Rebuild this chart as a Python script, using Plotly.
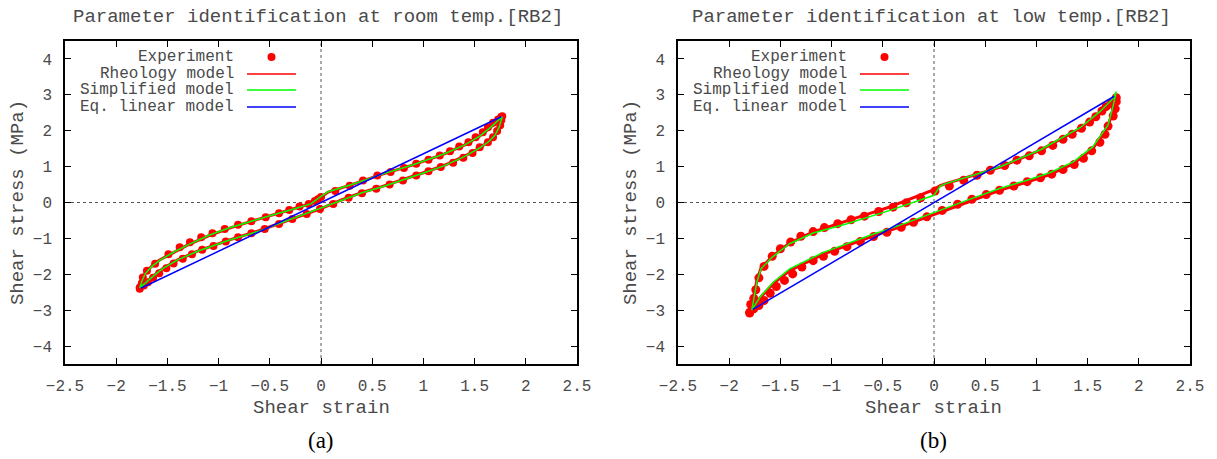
import plotly.graph_objects as go

# ---------------- Data: room temperature [RB2] ----------------
room_exp_strain = [-1.77, -1.75, -1.74, -1.70, -1.62, -1.49, -1.38, -1.28, -1.17, -1.06, -0.94, -0.81,
                   -0.68, -0.54, -0.41, -0.31, -0.21, -0.12, -0.06, -0.03, 0.00, 0.14, 0.28, 0.41, 0.55,
                   0.68, 0.81, 0.93, 1.05, 1.16, 1.26, 1.35, 1.44, 1.51, 1.58, 1.63, 1.68, 1.73, 1.76,
                   1.77, 1.76, 1.75, 1.72, 1.68, 1.63, 1.55, 1.48, 1.39, 1.29, 1.17, 1.05, 0.93, 0.80,
                   0.67, 0.54, 0.40, 0.27, 0.12, -0.01, -0.14, -0.28, -0.41, -0.55, -0.68, -0.81, -0.93,
                   -1.05, -1.16, -1.26, -1.35, -1.44, -1.51, -1.58, -1.64, -1.69, -1.73, -1.77]
room_exp_stress = [-2.37, -2.25, -2.09, -1.90, -1.71, -1.44, -1.25, -1.11, -0.97, -0.86, -0.74, -0.62,
                   -0.52, -0.41, -0.30, -0.21, -0.11, -0.04, 0.04, 0.09, 0.15, 0.32, 0.47, 0.61, 0.75,
                   0.85, 0.96, 1.08, 1.19, 1.31, 1.43, 1.56, 1.68, 1.82, 1.96, 2.10, 2.22, 2.31, 2.38,
                   2.40, 2.29, 2.15, 1.99, 1.82, 1.68, 1.54, 1.38, 1.25, 1.11, 0.99, 0.87, 0.75, 0.61,
                   0.50, 0.38, 0.26, 0.13, -0.04, -0.18, -0.32, -0.46, -0.60, -0.74, -0.86, -0.97, -1.09,
                   -1.21, -1.32, -1.44, -1.57, -1.70, -1.83, -1.97, -2.10, -2.22, -2.31, -2.40]

room_rheo_strain = [-1.77, -1.75, -1.72, -1.66, -1.58, -1.45, -1.30, -1.10, -0.90, -0.70, -0.50, -0.30,
                    -0.10, 0.00, 0.07, 0.30, 0.60, 0.90, 1.20, 1.40, 1.55, 1.65, 1.72, 1.77,
                    1.74, 1.70, 1.64, 1.55, 1.40, 1.20, 1.00, 0.80, 0.60, 0.40, 0.20, 0.00, -0.20,
                    -0.40, -0.60, -0.90, -1.20, -1.40, -1.55, -1.65, -1.72, -1.77]
room_rheo_stress = [-2.38, -2.18, -1.98, -1.79, -1.61, -1.40, -1.18, -0.93, -0.72, -0.54, -0.37, -0.20,
                    -0.03, 0.15, 0.29, 0.50, 0.79, 1.05, 1.35, 1.60, 1.85, 2.08, 2.26, 2.39,
                    2.12, 1.89, 1.71, 1.52, 1.29, 1.03, 0.83, 0.63, 0.45, 0.28, 0.07, -0.17, -0.38,
                    -0.58, -0.78, -1.05, -1.35, -1.60, -1.85, -2.08, -2.26, -2.38]

room_simp_strain = [-1.77, -1.75, -1.72, -1.66, -1.58, -1.45, -1.30, -1.10, -0.90, -0.70, -0.50, -0.30,
                    -0.10, 0.00, 0.07, 0.30, 0.60, 0.90, 1.20, 1.40, 1.55, 1.65, 1.72, 1.77,
                    1.74, 1.70, 1.64, 1.55, 1.40, 1.20, 1.00, 0.80, 0.60, 0.40, 0.20, 0.00, -0.20,
                    -0.40, -0.60, -0.90, -1.20, -1.40, -1.55, -1.65, -1.72, -1.77]
room_simp_stress = [-2.38, -2.20, -2.00, -1.80, -1.62, -1.40, -1.18, -0.92, -0.71, -0.53, -0.37, -0.21,
                    -0.04, 0.17, 0.30, 0.50, 0.79, 1.05, 1.35, 1.60, 1.85, 2.08, 2.26, 2.39,
                    2.10, 1.88, 1.70, 1.52, 1.28, 1.02, 0.82, 0.62, 0.44, 0.27, 0.06, -0.17, -0.38,
                    -0.59, -0.79, -1.05, -1.35, -1.60, -1.85, -2.08, -2.26, -2.38]

room_lin_strain = [-1.76, 1.76]
room_lin_stress = [-2.39, 2.39]

# ---------------- Data: low temperature [RB2] ----------------
low_exp_strain = [-1.80, -1.79, -1.76, -1.74, -1.71, -1.66, -1.58, -1.50, -1.40, -1.30, -1.18, -1.07,
                  -0.94, -0.81, -0.68, -0.54, -0.40, -0.27, -0.13, 0.01, 0.15, 0.29, 0.42, 0.55, 0.69,
                  0.81, 0.93, 1.05, 1.16, 1.26, 1.35, 1.44, 1.52, 1.58, 1.64, 1.68, 1.73, 1.77,
                  1.78, 1.78, 1.77, 1.75, 1.70, 1.67, 1.62, 1.54, 1.46, 1.37, 1.26, 1.15, 1.04, 0.91,
                  0.78, 0.64, 0.51, 0.37, 0.23, 0.08, -0.07, -0.20, -0.32, -0.46, -0.59, -0.72, -0.85,
                  -0.97, -1.08, -1.18, -1.29, -1.38, -1.46, -1.54, -1.60, -1.66, -1.71, -1.76, -1.80]
low_exp_stress = [-3.06, -2.84, -2.67, -2.43, -2.10, -1.78, -1.50, -1.29, -1.10, -0.94, -0.81, -0.70,
                  -0.59, -0.48, -0.38, -0.25, -0.13, -0.01, 0.13, 0.32, 0.46, 0.62, 0.76, 0.90, 1.03,
                  1.18, 1.30, 1.44, 1.59, 1.76, 1.90, 2.07, 2.24, 2.39, 2.55, 2.67, 2.76, 2.84,
                  2.92, 2.81, 2.61, 2.41, 2.13, 1.90, 1.68, 1.44, 1.23, 1.06, 0.92, 0.79, 0.69, 0.58,
                  0.46, 0.34, 0.22, 0.09, -0.05, -0.22, -0.40, -0.55, -0.69, -0.83, -0.95, -1.09, -1.23,
                  -1.36, -1.50, -1.62, -1.80, -1.99, -2.17, -2.34, -2.53, -2.73, -2.87, -2.96, -3.08]

low_rheo_strain = [-1.78, -1.76, -1.73, -1.69, -1.58, -1.41, -1.18, -0.85, -0.43, 0.00, 0.06, 0.11,
                   0.29, 0.64, 1.04, 1.43, 1.62, 1.75, 1.77,
                   1.75, 1.70, 1.55, 1.36, 1.13, 0.91, 0.64, 0.32, 0.00, -0.33, -0.59, -1.08, -1.41,
                   -1.57, -1.70, -1.78]
low_rheo_stress = [-3.00, -2.60, -2.18, -1.83, -1.50, -1.13, -0.82, -0.52, -0.12, 0.36, 0.47, 0.52,
                   0.67, 0.98, 1.46, 2.07, 2.50, 2.88, 3.00,
                   2.62, 2.12, 1.50, 1.08, 0.78, 0.57, 0.34, 0.00, -0.34, -0.68, -0.93, -1.44, -1.90,
                   -2.26, -2.66, -3.00]

low_simp_strain = [-1.78, -1.76, -1.73, -1.69, -1.58, -1.41, -1.18, -0.85, -0.43, 0.00, 0.06, 0.11,
                   0.29, 0.64, 1.04, 1.43, 1.62, 1.75, 1.78,
                   1.75, 1.70, 1.55, 1.36, 1.13, 0.91, 0.64, 0.32, 0.00, -0.33, -0.59, -1.08, -1.41,
                   -1.57, -1.70, -1.78]
low_simp_stress = [-3.00, -2.64, -2.22, -1.85, -1.52, -1.15, -0.85, -0.59, -0.22, 0.20, 0.46, 0.52,
                   0.68, 0.99, 1.47, 2.09, 2.53, 2.90, 3.09,
                   2.70, 2.16, 1.55, 1.13, 0.83, 0.62, 0.39, 0.06, -0.29, -0.63, -0.88, -1.39, -1.85,
                   -2.22, -2.64, -3.00]

low_lin_strain = [-1.77, 1.76]
low_lin_stress = [-2.98, 2.96]

# ---------------- Text ----------------
titles = ["Parameter identification at room temp.[RB2]", "Parameter identification at low temp.[RB2]"]
panel_labels = ["(a)", "(b)"]
legend_labels = ["Experiment", "Rheology model", "Simplified model", "Eq. linear model"]
x_title = "Shear strain"
y_title = "Shear stress (MPa)"

MONO = "Liberation Mono, Courier New, monospace"
TXT = "#4a4a4a"
RED, GREEN, BLUE = "#ff0000", "#00ff00", "#0000ff"

W, H = 1217, 459
frames = [(65, 577), (678, 1190)]  # pixel left/right of each plot frame
top_px, bot_px = 41, 364

fig = go.Figure()

panels = [
    (room_exp_strain, room_exp_stress, room_rheo_strain, room_rheo_stress,
     room_simp_strain, room_simp_stress, room_lin_strain, room_lin_stress, 8),
    (low_exp_strain, low_exp_stress, low_rheo_strain, low_rheo_stress,
     low_simp_strain, low_simp_stress, low_lin_strain, low_lin_stress, 9),
]

for i, (ex, ey, rx, ry, sx, sy, lx, ly, msize) in enumerate(panels):
    xa = "x" if i == 0 else "x2"
    ya = "y" if i == 0 else "y2"
    fig.add_trace(go.Scatter(x=ex, y=ey, mode="markers", xaxis=xa, yaxis=ya,
                             marker=dict(color=RED, size=msize, line=dict(width=0)),
                             showlegend=False))
    fig.add_trace(go.Scatter(x=rx, y=ry, mode="lines", xaxis=xa, yaxis=ya,
                             line=dict(color=RED, width=3), showlegend=False))
    fig.add_trace(go.Scatter(x=sx, y=sy, mode="lines", xaxis=xa, yaxis=ya,
                             line=dict(color=GREEN, width=1.5), showlegend=False))
    fig.add_trace(go.Scatter(x=lx, y=ly, mode="lines", xaxis=xa, yaxis=ya,
                             line=dict(color=BLUE, width=1.5), showlegend=False))

axis_common = dict(showline=True, linecolor="black", linewidth=1.5, mirror="allticks",
                   ticks="inside", ticklen=6, tickwidth=1, tickcolor="black",
                   showgrid=False, zeroline=False, automargin=False,
                   tickfont=dict(family=MONO, size=16, color=TXT))

layout = dict(width=W, height=H, margin=dict(l=0, r=0, t=0, b=0),
              paper_bgcolor="white", plot_bgcolor="white", showlegend=False)

ydom = [(H - bot_px) / H, (H - top_px) / H]
for i, (l, r) in enumerate(frames):
    sfx = "" if i == 0 else "2"
    layout["xaxis" + sfx] = dict(axis_common, domain=[l / W, r / W], range=[-2.5, 2.5],
                                 dtick=0.5, tick0=0, anchor="y" + sfx, ticklabelstandoff=6)
    layout["yaxis" + sfx] = dict(axis_common, domain=ydom, range=[-4.5, 4.5],
                                 dtick=1, tick0=0, anchor="x" + sfx, ticklabelstandoff=8,
                                 title=dict(text=y_title, standoff=4,
                                            font=dict(family=MONO, size=19, color=TXT)))

fig.update_layout(**layout)

shapes = []
annotations = []
row_px = [57, 74, 90, 107]
frame_h = bot_px - top_px
for i, (l, r) in enumerate(frames):
    sfx = "" if i == 0 else "2"
    xd, yd = "x" + sfx + " domain", "y" + sfx + " domain"
    cx = (l + r) / 2 / W
    # zero lines
    shapes.append(dict(type="line", xref=xd, x0=0, x1=1, yref="y" + sfx, y0=0, y1=0,
                       line=dict(color="#555555", width=1, dash="dot"), layer="below"))
    shapes.append(dict(type="line", xref="x" + sfx, x0=0, x1=0, yref=yd, y0=0, y1=1,
                       line=dict(color="#555555", width=1, dash="dot"), layer="below"))
    # titles
    annotations.append(dict(text=titles[i], xref="paper", yref="paper", x=cx - 3 / W, y=(H - 17) / H,
                            showarrow=False, font=dict(family=MONO, size=19, color=TXT),
                            xanchor="center", yanchor="middle"))
    annotations.append(dict(text=x_title, xref="paper", yref="paper", x=cx, y=(H - 408) / H,
                            showarrow=False, font=dict(family=MONO, size=19, color=TXT),
                            xanchor="center", yanchor="middle"))
    annotations.append(dict(text=panel_labels[i], xref="paper", yref="paper", x=cx, y=(H - 440) / H,
                            showarrow=False, font=dict(family="Liberation Serif, Times New Roman, serif",
                                                      size=23, color="black"),
                            xanchor="center", yanchor="middle"))
    # manual legend
    text_right = 171 / (r - l)
    line_x0, line_x1 = 182 / (r - l), 231 / (r - l)
    for k, lab in enumerate(legend_labels):
        yy = (bot_px - row_px[k]) / frame_h
        annotations.append(dict(text=lab, xref=xd, yref=yd, x=text_right, y=yy,
                                showarrow=False, xanchor="right", yanchor="middle",
                                font=dict(family=MONO, size=16, color=TXT)))
        if k == 0:
            shapes.append(dict(type="circle", xref=xd, yref=yd, xsizemode="pixel", ysizemode="pixel",
                               xanchor=(line_x0 + line_x1) / 2, yanchor=yy,
                               x0=-4, x1=4, y0=-4, y1=4, fillcolor=RED, line=dict(width=0)))
        else:
            col = [RED, GREEN, BLUE][k - 1]
            shapes.append(dict(type="line", xref=xd, yref=yd, x0=line_x0, x1=line_x1, y0=yy, y1=yy,
                               line=dict(color=col, width=1.5)))

fig.update_layout(shapes=shapes, annotations=annotations)
fig.write_html("out.html")
